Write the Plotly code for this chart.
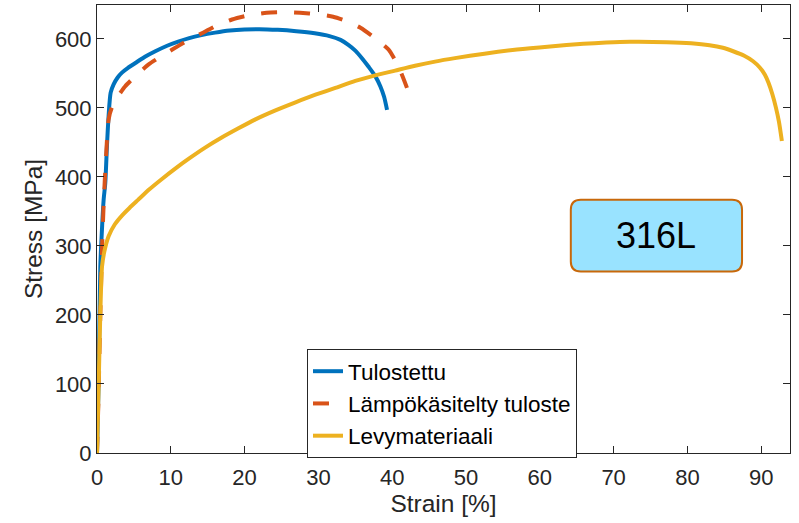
import plotly.graph_objects as go

# Tensile test curves for 316L (engineering strain in %, stress in MPa)
strain_printed = [0, 0.2, 0.45, 0.7, 0.9, 1.12, 1.35, 1.57, 1.85, 2.25, 2.8, 3.38, 4.2, 5.2,
                  6.5, 7.9, 9.5, 11.0, 12.5, 14.0, 16.0, 18.0, 20.0, 22.0, 24.5, 27.0,
                  29.5, 31.5, 33.0, 34.1, 35.0, 35.9, 36.8, 37.7, 38.4, 38.9, 39.3]
stress_printed = [0, 95, 270, 330, 367, 391, 445, 488, 522, 534, 544, 551, 558, 565,
                  574, 582, 590, 596, 601, 605, 609, 612, 613.5, 614, 613, 611,
                  608, 604, 598.5, 591, 583, 572, 559.5, 546, 531, 516, 497]

strain_heat = [0, 0.2, 0.45, 0.68, 0.9, 1.2, 1.57, 2.0, 2.8, 3.8, 5.2, 7.0, 8.6, 10.2, 12.2,
               14.2, 16.2, 18.3, 20.5, 23.0, 25.3, 27.5, 30.0, 32.0, 34.0, 35.7, 37.3,
               38.5, 39.5, 40.4, 41.2, 42.0]
stress_heat = [0, 80, 200, 295, 360, 425, 483, 500, 516, 531, 546, 563, 574, 584.5, 597,
               608, 619, 628, 634, 637.7, 638.5, 637.7, 635.5, 632, 625, 616, 604,
               594, 584.5, 569, 551, 529]

strain_sheet = [0, 0.22, 0.45, 0.68, 1.0, 1.57, 2.4, 3.38, 4.4, 5.6, 7.1, 8.8, 10.6,
                12.4, 14.6, 16.9, 19.1, 21.4, 24.1, 26.9, 29.6, 32.3, 35.0, 37.7,
                40.4, 43.1, 45.8, 48.5, 52.5, 56.9, 61.4, 65.9, 69.0, 72.2, 77.2,
                80.5, 83.0, 84.8, 86.2, 87.7, 88.9, 89.8, 90.5, 91.0, 91.5, 92.0,
                92.4, 92.8]
stress_sheet = [0, 96, 203, 270, 292, 314, 331, 344, 355, 367, 382, 397, 412,
                426, 442, 457, 470, 483, 496, 508, 519, 529, 539, 547,
                554, 561, 567, 572, 578.5, 584.5, 589, 592.7, 594.5, 595.6, 595.1,
                593.5, 590.7, 587, 582, 575.5, 567.5, 558.5, 548, 536, 520, 500,
                480, 452]

series_names = ["Tulostettu", "Lämpökäsitelty tuloste", "Levymateriaali"]
x_ticks = [0, 10, 20, 30, 40, 50, 60, 70, 80, 90]
y_ticks = [0, 100, 200, 300, 400, 500, 600]
material_label = "316L"

FONT = "Liberation Sans, Arial, Helvetica, sans-serif"
INK = "#262626"

fig = go.Figure()
fig.add_trace(go.Scatter(x=strain_printed, y=stress_printed, mode="lines",
                         name=series_names[0],
                         line=dict(color="#0072BD", width=4, shape="spline", smoothing=0.7)))
fig.add_trace(go.Scatter(x=strain_heat, y=stress_heat, mode="lines",
                         name=series_names[1],
                         line=dict(color="#D95319", width=4, dash="16px,17px",
                                   shape="spline", smoothing=0.6)))
fig.add_trace(go.Scatter(x=strain_sheet, y=stress_sheet, mode="lines",
                         name=series_names[2],
                         line=dict(color="#EDB120", width=4, shape="spline", smoothing=0.6)))

# Rounded label box (data coordinates, corner radius ~10 px)
x0, x1, y0, y1 = 64.2, 87.4, 263, 367
rx, ry = 1.35, 14.5
box_path = (f"M {x0+rx},{y0} L {x1-rx},{y0} Q {x1},{y0} {x1},{y0+ry} "
            f"L {x1},{y1-ry} Q {x1},{y1} {x1-rx},{y1} L {x0+rx},{y1} "
            f"Q {x0},{y1} {x0},{y1-ry} L {x0},{y0+ry} Q {x0},{y0} {x0+rx},{y0} Z")
fig.add_shape(type="path", path=box_path, xref="x", yref="y",
              fillcolor="#99E3FF", line=dict(color="#C8680A", width=2), layer="above")
fig.add_annotation(x=(x0 + x1) / 2, y=(y0 + y1) / 2, xref="x", yref="y",
                   text=material_label, showarrow=False,
                   font=dict(family=FONT, size=36, color="black"))

axis_common = dict(showline=True, linecolor=INK, linewidth=1, mirror="ticks",
                   ticks="inside", ticklen=7, tickcolor=INK, tickwidth=1,
                   showgrid=False, zeroline=False,
                   tickfont=dict(family=FONT, size=22, color=INK))

fig.update_layout(
    width=799, height=523,
    margin=dict(l=97, r=9, t=5, b=70),
    paper_bgcolor="white", plot_bgcolor="white",
    showlegend=True,
    legend=dict(x=0.303, y=0.232, xanchor="left", yanchor="top",
                bgcolor="white", bordercolor=INK, borderwidth=1,
                font=dict(family=FONT, size=22.5, color="black"),
                tracegroupgap=0),
    xaxis=dict(range=[0, 93.9], tickvals=x_ticks, ticklabelstandoff=5,
               title=dict(text="Strain [%]", font=dict(family=FONT, size=24.5, color=INK),
                          standoff=2),
               **axis_common),
    yaxis=dict(range=[0, 649], tickvals=y_ticks,
               title=dict(text="Stress [MPa]", font=dict(family=FONT, size=24.5, color=INK),
                          standoff=5),
               **axis_common),
)

fig.write_html("out.html")
